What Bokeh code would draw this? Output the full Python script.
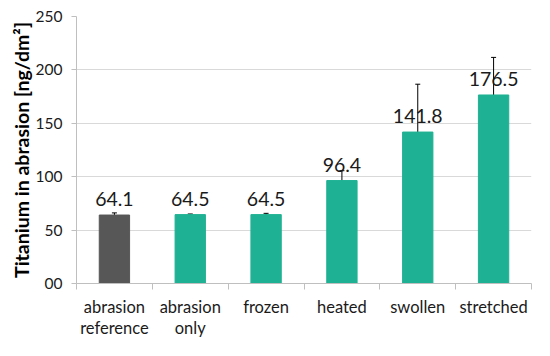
from bokeh.plotting import figure
from bokeh.models import ColumnDataSource, FixedTicker, Whisker, TeeHead, Range1d
from bokeh.embed import file_html
from bokeh.resources import INLINE
from bokeh.core.properties import value

categories = ["abrasion\nreference", "abrasion\nonly", "frozen", "heated", "swollen", "stretched"]
values = [64.1, 64.5, 64.5, 96.4, 141.8, 176.5]
errors = [2.0, 0.6, 1.2, 9.2, 44.8, 35.2]
labels = ["64.1", "64.5", "64.5", "96.4", "141.8", "176.5"]
bar_colors = ["#575757", "#1fb193", "#1fb193", "#1fb193", "#1fb193", "#1fb193"]
y_ticks = [0, 50, 100, 150, 200, 250]

FONT = "Lato"

xpos = [i + 0.5 for i in range(len(categories))]
src = ColumnDataSource(dict(
    x=xpos, top=values, lower=[v - e for v, e in zip(values, errors)],
    upper=[v + e for v, e in zip(values, errors)], label=labels, color=bar_colors,
))

p = figure(width=534, height=340, output_backend="svg", toolbar_location=None,
           x_range=Range1d(0, len(categories)), y_range=Range1d(0, 250),
           min_border_left=76, min_border_right=3, min_border_top=16, min_border_bottom=48)
p.outline_line_color = None
p.background_fill_color = "white"

p.vbar(x="x", top="top", width=0.4, color="color", source=src)
w = Whisker(base="x", lower="lower", upper="upper", source=src, line_color="#000000", line_width=1,
            upper_head=TeeHead(size=5, line_color="#000000", line_width=1),
            lower_head=TeeHead(size=5, line_color="#000000", line_width=1))
p.add_layout(w)
p.text(x="x", y="top", text="label", source=src, text_align="center", text_baseline="bottom",
       y_offset=-9, text_font=value(FONT), text_font_size="19.5px", text_color="#1a1a1a")

# axes
p.xaxis.ticker = FixedTicker(ticks=xpos, minor_ticks=list(range(len(categories) + 1)))
p.xaxis.major_label_overrides = {x: c for x, c in zip(xpos, categories)}
p.xaxis.major_tick_out = 0
p.xaxis.major_tick_in = 0
p.xaxis.minor_tick_out = 6
p.xaxis.minor_tick_in = 0
p.xaxis.minor_tick_line_color = "#bfbfbf"
p.xaxis.axis_line_color = "#bfbfbf"
p.xaxis.major_label_text_font = FONT
p.xaxis.major_label_text_font_size = "16.5px"
p.xaxis.major_label_text_color = "#1a1a1a"
p.xaxis.major_label_standoff = 7
p.xaxis.major_label_text_line_height = 1.05
p.xgrid.grid_line_color = None

p.yaxis.ticker = FixedTicker(ticks=y_ticks)
p.yaxis.major_label_overrides = {0: "00"}
p.yaxis.minor_tick_line_color = None
p.yaxis.major_tick_out = 5
p.yaxis.major_tick_in = 0
p.yaxis.major_tick_line_color = "#bfbfbf"
p.yaxis.axis_line_color = "#bfbfbf"
p.yaxis.major_label_text_font = FONT
p.yaxis.major_label_text_font_size = "15.5px"
p.yaxis.major_label_text_color = "#1a1a1a"
p.yaxis.major_label_standoff = 9
p.yaxis.axis_label = "Titanium in abrasion [ng/dm²]"
p.yaxis.axis_label_text_font = FONT
p.yaxis.axis_label_text_font_style = "bold"
p.yaxis.axis_label_text_font_size = "19.5px"
p.yaxis.axis_label_text_color = "#000000"
p.yaxis.axis_label_standoff = 0
p.ygrid.grid_line_color = "#d9d9d9"

open("out.html", "w").write(file_html(p, INLINE))
